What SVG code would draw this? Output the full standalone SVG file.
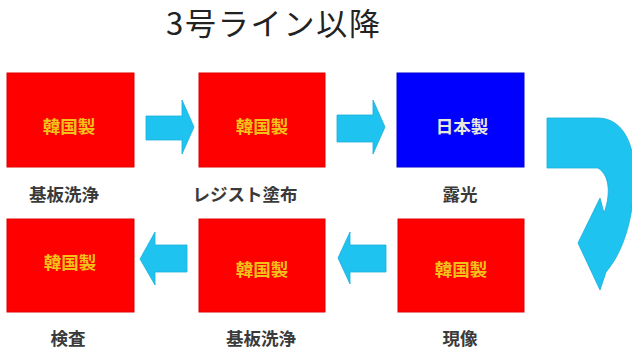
<svg xmlns="http://www.w3.org/2000/svg" width="632" height="350" viewBox="0 0 632 350">
<style>
.red{fill:#FF0000;stroke:#E00000;stroke-width:1}
.blue{fill:#0000FF;stroke:#0000D0;stroke-width:1}
.arr{fill:#1EC3F0;stroke:#19AEDB;stroke-width:0.8}
.in{font-family:"Noto Sans CJK JP","Noto Sans CJK SC",sans-serif;font-size:17.5px;font-weight:bold;text-anchor:middle;fill:#F2C21A}
.inw{fill:#E8E8D8}
.lab{font-family:"Noto Sans CJK JP","Noto Sans CJK SC",sans-serif;font-size:17.5px;font-weight:bold;text-anchor:middle;fill:#3A3A3A}
.title{font-family:"Noto Sans CJK JP","Noto Sans CJK SC",sans-serif;font-size:31px;fill:#222}
</style>
<rect width="632" height="350" fill="#FFFFFF"/>
<text class="title" x="166" y="35" textLength="214" lengthAdjust="spacing">3号ライン以降</text>
<g id="n1"><rect class="red" x="7" y="73" width="127" height="94"/><text class="in" x="69" y="133">韓国製</text><text class="lab" x="64" y="201">基板洗浄</text></g>
<g id="n2"><rect class="red" x="199" y="73" width="126" height="94"/><text class="in" x="262" y="133">韓国製</text><text class="lab" x="245" y="201">レジスト塗布</text></g>
<g id="n3"><rect class="blue" x="397" y="73" width="127" height="94"/><text class="in inw" x="462" y="133">日本製</text><text class="lab" x="460" y="201">露光</text></g>
<g id="n4"><rect class="red" x="398" y="219" width="126" height="93"/><text class="in" x="461" y="276">韓国製</text><text class="lab" x="460" y="345">現像</text></g>
<g id="n5"><rect class="red" x="199" y="219" width="126" height="93"/><text class="in" x="262" y="276">韓国製</text><text class="lab" x="261" y="345">基板洗浄</text></g>
<g id="n6"><rect class="red" x="7" y="219" width="127" height="93"/><text class="in" x="70" y="269">韓国製</text><text class="lab" x="68" y="345">検査</text></g>
<g id="connectors">
<polygon class="arr" points="146,116 182,116 182,100 194,127 182,154 182,140 146,140"/>
<polygon class="arr" points="337,115 373,115 373,100 385,127 373,154 373,142 337,142"/>
<polygon class="arr" points="386,245 350,245 350,232 338,258 350,284 350,272 386,272"/>
<polygon class="arr" points="187,245 155,245 155,232 140,259 155,285 155,272 187,272"/>
<path class="arr" d="M547,118 H598 C625,118 640,150 633,200 C629,235 618,258 606,272 L600,290 L578,243 L600,198 L604,213 C610,197 611,176 598,168 L547,168 Z"/>
</g>
</svg>
